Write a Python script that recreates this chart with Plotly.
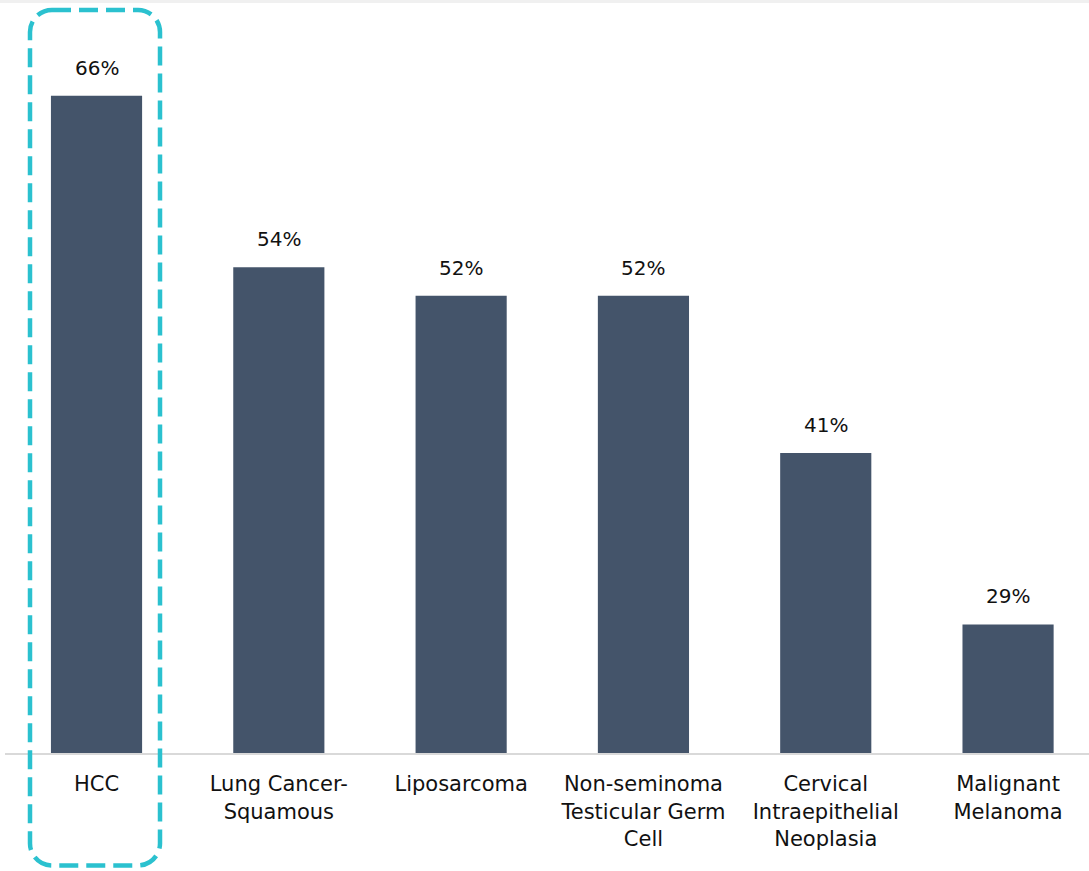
import plotly.graph_objects as go

# Chart data
categories = [
    "HCC",
    "Lung Cancer-<br>Squamous",
    "Liposarcoma",
    "Non-seminoma<br>Testicular Germ<br>Cell",
    "Cervical<br>Intraepithelial<br>Neoplasia",
    "Malignant<br>Melanoma",
]
values = [66, 54, 52, 52, 41, 29]

W, H = 1089, 871
M_L, M_R, M_T, M_B = 5, 0, 20, 117.5
plot_w = W - M_L - M_R
plot_h = H - M_T - M_B

BAR_COLOR = "#44546A"
HILITE = "#2BC1CF"
FONT = "DejaVu Sans"
TEXT_COLOR = "#111111"

x_idx = list(range(len(categories)))

fig = go.Figure(
    go.Bar(
        x=x_idx,
        y=values,
        width=0.5,
        marker=dict(color=BAR_COLOR, line=dict(width=0)),
        hoverinfo="skip",
    )
)

# value labels above each bar
for i, v in zip(x_idx, values):
    fig.add_annotation(
        x=i, y=v, text=f"{v}%", showarrow=False,
        yanchor="bottom", yshift=14,
        font=dict(family=FONT, size=20, color=TEXT_COLOR),
    )


# rounded dashed frame around the first category, built in pixel space
def px_to_paper(px, py):
    return (px - M_L) / plot_w, (H - M_B - py) / plot_h


def rounded_rect_path(x0, y0, x1, y1, r):
    k = 0.5523 * r

    def P(x, y):
        a, b = px_to_paper(x, y)
        return f"{a:.5f},{b:.5f}"

    pts = [
        f"M {P(x0 + r, y0)}",
        f"L {P(x1 - r, y0)}",
        f"C {P(x1 - r + k, y0)} {P(x1, y0 + r - k)} {P(x1, y0 + r)}",
        f"L {P(x1, y1 - r)}",
        f"C {P(x1, y1 - r + k)} {P(x1 - r + k, y1)} {P(x1 - r, y1)}",
        f"L {P(x0 + r, y1)}",
        f"C {P(x0 + r - k, y1)} {P(x0, y1 - r + k)} {P(x0, y1 - r)}",
        f"L {P(x0, y0 + r)}",
        f"C {P(x0, y0 + r - k)} {P(x0 + r - k, y0)} {P(x0 + r, y0)}",
        "Z",
    ]
    return " ".join(pts)


fig.add_shape(
    type="path", xref="paper", yref="paper",
    path=rounded_rect_path(30, 10, 160, 866, 22),
    line=dict(color=HILITE, width=4.5, dash="19px,8px"),
    layer="above",
)

# faint shade along the top edge of the page
fig.add_shape(
    type="rect", xref="paper", yref="paper",
    x0=-M_L / plot_w, x1=1.0,
    y0=(H - M_B - 3) / plot_h, y1=(H - M_B) / plot_h,
    fillcolor="#F0F0F0", line=dict(width=0), layer="below",
)

fig.update_layout(
    width=W, height=H,
    margin=dict(l=M_L, r=M_R, t=M_T, b=M_B),
    paper_bgcolor="white", plot_bgcolor="white",
    showlegend=False,
    font=dict(family=FONT, size=21, color=TEXT_COLOR),
    xaxis=dict(
        tickmode="array", tickvals=x_idx, ticktext=categories,
        range=[-0.502, 5.444],
        showgrid=False, zeroline=False,
        showline=True, linecolor="#D9D9D9", linewidth=2,
        ticks="", ticklabelstandoff=11,
        tickfont=dict(family=FONT, size=21, color=TEXT_COLOR),
    ),
    yaxis=dict(
        range=[20.0, 71.3], visible=False, showgrid=False, zeroline=False,
    ),
)

fig.write_html("out.html")
